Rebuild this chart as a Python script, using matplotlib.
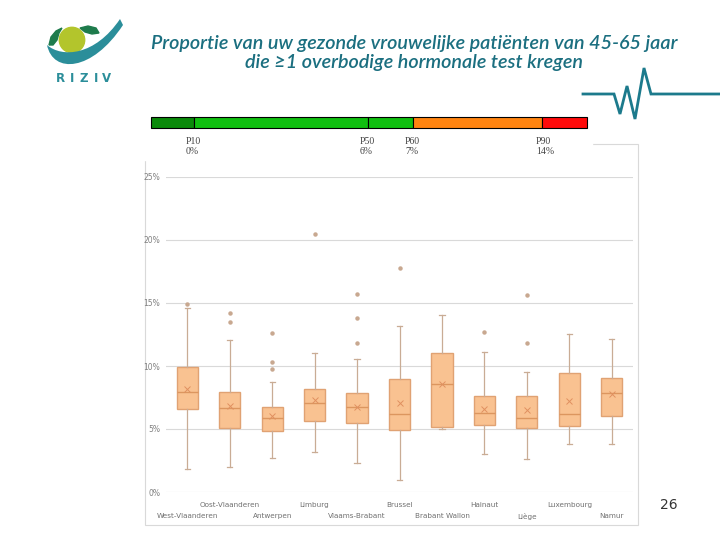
import matplotlib.pyplot as plt
import matplotlib.patches as mpatches
from matplotlib.path import Path
from matplotlib.ticker import FuncFormatter

# provinces, box statistics in percent
provinces = ['West-Vlaanderen', 'Oost-Vlaanderen', 'Antwerpen', 'Limburg', 'Vlaams-Brabant',
             'Brussel', 'Brabant Wallon', 'Hainaut', 'Liège', 'Luxembourg', 'Namur']
whis_lo = [1.8, 2.0, 2.67, 3.15, 2.33, 0.95, 5.03, 3.04, 2.62, 3.81, 3.81]
q1 = [6.6, 5.05, 4.84, 5.63, 5.5, 4.92, 5.18, 5.29, 5.05, 5.24, 6.03]
median = [7.9, 6.64, 5.9, 7.06, 6.72, 6.22, 8.57, 6.27, 5.9, 6.22, 7.88]
q3 = [9.95, 7.96, 6.77, 8.15, 7.88, 8.94, 11.0, 7.65, 7.59, 9.42, 9.02]
whis_hi = [14.6, 12.06, 8.7, 11.06, 10.58, 13.17, 14.07, 11.08, 9.52, 12.54, 12.17]
mean = [8.15, 6.8, 6.03, 7.27, 6.72, 7.09, 8.6, 6.56, 6.5, 7.22, 7.75]
outliers = [[14.9], [14.2, 13.5], [9.76, 10.29, 12.6], [20.5], [11.8, 13.8, 15.7],
            [17.8], [], [12.7], [11.83, 15.6], [], []]

# percentile legend bar
pct_labels = ['P10', 'P50', 'P60', 'P90']
pct_values = ['0%', '6%', '7%', '14%']

title = 'Proportie van uw gezonde vrouwelijke patiënten van 45-65 jaar\ndie ≥1 overbodige hormonale test kregen'

teal = '#1B6F80'
narrow = ['Liberation Sans Narrow', 'DejaVu Sans']

fig = plt.figure(figsize=(7.2, 5.4), dpi=100)

# background layer in pixel coordinates
bg = fig.add_axes([0, 0, 1, 1], zorder=0)
bg.set_xlim(0, 720)
bg.set_ylim(540, 0)
bg.axis('off')

# logo
bg.add_patch(mpatches.Circle((72, 40), 12.7, color='#B3C52C', zorder=2))
verts = [(47, 45), (53, 74), (92, 72), (123, 25), (120, 19), (95, 56), (62, 58), (47, 45)]
codes = [Path.MOVETO, Path.CURVE4, Path.CURVE4, Path.CURVE4, Path.LINETO,
         Path.CURVE4, Path.CURVE4, Path.CURVE4]
bg.add_patch(mpatches.PathPatch(Path(verts, codes), color='#2B8E9A', lw=0, zorder=3))
bg.add_patch(mpatches.Polygon([(49, 45), (51, 37), (56, 31), (62, 28), (59, 33), (57, 40), (53, 45)],
                              color='#1E7B4C', zorder=3))
bg.add_patch(mpatches.Polygon([(80, 28), (88, 26), (96, 28), (99, 33), (92, 34), (85, 32)],
                              color='#1E7B4C', zorder=3))
for xc, ch in zip([60, 71.7, 83.3, 96, 106.7], 'RIZIV'):
    bg.text(xc, 78, ch, color='#2B8E9A', fontsize=8.5, fontweight='bold',
            ha='center', va='center', family='DejaVu Sans')

# title
bg.text(414, 53, title, color=teal, fontsize=14.2, style='italic', fontweight='semibold',
        ha='center', va='center', family='Lato', linespacing=1.17)

# heartbeat line
hb_x = [583, 614, 620, 627, 635, 644, 651, 720]
hb_y = [94, 94, 114, 86, 119, 68, 94, 94]
bg.plot(hb_x, hb_y, color='#1C7A8C', lw=2.0, solid_joinstyle='miter')

# chart frame
bg.add_patch(mpatches.Rectangle((145, 144), 493, 381, fill=False, ec='#D9D9D9', lw=0.8))
bg.add_patch(mpatches.Rectangle((138, 108), 454, 52, color='white', zorder=3))

# percentile bar
seg_edges = [151, 194, 368, 413, 542, 587]
seg_colors = ['#0A8A0A', '#10BF10', '#10BF10', '#FF8410', '#FF0A0A']
for x0, x1, c in zip(seg_edges[:-1], seg_edges[1:], seg_colors):
    bg.add_patch(mpatches.Rectangle((x0, 117), x1 - x0, 11, fc=c, ec='black', lw=0.8, zorder=4))
for xc, lab, val in zip([194, 368, 413, 544], pct_labels, pct_values):
    bg.text(xc - 8, 141, lab, fontsize=7, family='Liberation Serif', color='#444444',
            ha='left', va='center', zorder=5)
    bg.text(xc - 8, 152, val, fontsize=7, family='Liberation Serif', color='#444444',
            ha='left', va='center', zorder=5)

bg.text(669, 505, '26', fontsize=10, color='#333333', ha='center', va='center')

# box plot
ax = fig.add_axes([166 / 720, 48 / 540, 467 / 720, 315 / 540], zorder=1)
ax.patch.set_alpha(0)
stats = []
for i in range(len(provinces)):
    stats.append(dict(whislo=whis_lo[i], q1=q1[i], med=median[i], q3=q3[i], whishi=whis_hi[i],
                      mean=mean[i], fliers=outliers[i], label=provinces[i]))
edge = '#E0A273'
wcol = '#C9AC95'
ax.bxp(stats, positions=range(len(provinces)), widths=0.5, capwidths=0.12,
       showmeans=True, meanline=False, patch_artist=True,
       boxprops=dict(facecolor='#F9C291', edgecolor=edge, lw=1.0),
       medianprops=dict(color='#DC965F', lw=1.0),
       whiskerprops=dict(color=wcol, lw=0.9),
       capprops=dict(color=wcol, lw=0.9),
       meanprops=dict(marker='x', markeredgecolor='#E09060', markersize=5, markeredgewidth=0.7),
       flierprops=dict(marker='o', markerfacecolor='#C8A890', markeredgecolor='#C8A890',
                       markersize=2.2))
ax.set_xlim(-0.5, len(provinces) - 0.5)
ax.set_ylim(0, 25)
ax.set_yticks([0, 5, 10, 15, 20, 25])
ax.yaxis.set_major_formatter(FuncFormatter(lambda v, p: '%d%%' % v))
ax.grid(axis='y', color='#D9D9D9', lw=0.8)
ax.set_axisbelow(True)
for s in ax.spines.values():
    s.set_visible(False)
ax.tick_params(axis='y', length=0, labelsize=5.5, labelcolor='#808080', pad=4)
for t in ax.get_yticklabels():
    t.set_family(narrow)
ax.set_xticks(range(len(provinces)))
ax.set_xticklabels([])
ax.tick_params(axis='x', length=0)
for i, name in enumerate(provinces):
    yoff = -9.4 if i % 2 == 1 else -17.3
    ax.annotate(name, (i, 0), xytext=(0, yoff), textcoords='offset points', ha='center',
                va='center', fontsize=5.2, color='#707070', family=narrow, annotation_clip=False)

fig.savefig('out.png', dpi=100)
